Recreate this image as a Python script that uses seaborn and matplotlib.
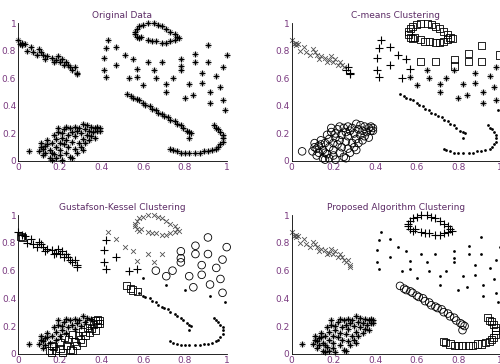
import numpy as np
import pandas as pd
import matplotlib
matplotlib.use("Agg")
import matplotlib.pyplot as plt
import seaborn as sns

sns.set_style("white")
plt.rcParams['font.family'] = ['DejaVu Sans']

# ---- data: same points in all four panels ----
A_x = [0.00,0.01,0.02,0.02,0.03,0.04,0.06,0.07,0.09,0.10,0.11,0.12,0.13,0.14,0.16,0.17,0.18,0.19,0.20,0.21,0.22,0.23,0.24,0.25,0.26,0.27,0.28,0.28]
A_y = [0.88,0.85,0.84,0.86,0.85,0.80,0.83,0.79,0.77,0.81,0.79,0.77,0.74,0.76,0.75,0.72,0.73,0.76,0.72,0.74,0.70,0.72,0.70,0.68,0.66,0.68,0.64,0.63]

B_x = [0.56,0.56,0.57,0.58,0.60,0.62,0.65,0.67,0.69,0.71,0.73,0.75,0.76,0.77,0.57,0.58,0.59,0.62,0.64,0.66,0.69,0.71,0.73,0.75]
B_y = [0.92,0.94,0.96,0.98,0.99,1.00,1.00,0.99,0.98,0.96,0.94,0.92,0.90,0.89,0.90,0.89,0.90,0.88,0.87,0.87,0.86,0.86,0.87,0.88]

C_x = [0.43,0.42,0.41,0.41,0.42,0.47,0.47,0.51,0.53,0.55,0.57,0.57,0.60,0.62,0.65,0.66,0.69,0.71,0.71,0.74,
       0.78,0.78,0.78,0.80,0.82,0.84,0.85,0.85,0.88,0.88,0.91,0.91,0.92,0.92,0.95,0.97,0.98,0.98,0.99,1.00]
C_y = [0.88,0.82,0.75,0.66,0.61,0.83,0.70,0.77,0.60,0.74,0.67,0.61,0.55,0.72,0.66,0.60,0.72,0.56,0.50,0.60,
       0.74,0.69,0.66,0.46,0.56,0.48,0.78,0.72,0.64,0.57,0.84,0.72,0.50,0.42,0.62,0.54,0.68,0.44,0.37,0.77]

D_x = [0.52,0.54,0.55,0.57,0.58,0.60,0.61,0.63,0.64,0.66,0.67,0.69,0.70,0.72,0.73,0.75,0.76,0.78,0.79,0.81,0.82,0.83,0.82]
D_y = [0.49,0.47,0.46,0.45,0.44,0.42,0.41,0.40,0.38,0.37,0.35,0.34,0.33,0.32,0.30,0.29,0.27,0.26,0.24,0.22,0.21,0.20,0.17]

E_x = [0.73,0.74,0.76,0.78,0.80,0.82,0.85,0.87,0.89,0.91,0.93,0.95,0.96,0.97,0.98,0.98,0.98,0.97,0.96,0.95,0.94]
E_y = [0.09,0.08,0.07,0.06,0.06,0.06,0.06,0.06,0.07,0.07,0.08,0.09,0.10,0.12,0.14,0.17,0.19,0.21,0.23,0.24,0.26]

F_x = [0.05,0.10,0.11,0.11,0.12,0.13,0.13,0.14,0.14,0.15,0.15,0.16,0.16,0.17,0.17,0.18,0.18,0.18,0.19,0.20,
       0.20,0.20,0.21,0.21,0.21,0.22,0.22,0.23,0.23,0.23,0.24,0.24,0.25,0.25,0.26,0.26,0.27,0.27,0.27,0.28,
       0.28,0.29,0.29,0.30,0.30,0.31,0.31,0.32,0.32,0.33,0.33,0.34,0.34,0.35,0.35,0.36,0.37,0.37,0.38,0.38,
       0.39,0.39,0.12,0.16,0.19,0.26,0.31]
F_y = [0.07,0.07,0.13,0.10,0.04,0.11,0.06,0.15,0.12,0.08,0.02,0.01,0.13,0.19,0.05,0.16,0.10,0.02,0.24,0.08,
       0.13,0.04,0.20,0.17,0.01,0.12,0.23,0.06,0.15,0.25,0.19,0.10,0.24,0.03,0.14,0.21,0.09,0.25,0.18,0.22,
       0.06,0.13,0.24,0.20,0.10,0.16,0.27,0.23,0.13,0.19,0.26,0.15,0.22,0.18,0.25,0.21,0.24,0.17,0.22,0.25,
       0.24,0.22,0.09,0.06,0.21,0.02,0.08]

# ---- cluster markers per panel (one character per point) ----
titles = ["Original Data", "C-means Clustering", "Gustafson-Kessel Clustering", "Proposed Algorithm Clustering"]
labels_orig = {"A": "*" * 28, "B": "*" * 24, "C": "*" * 40, "D": "*" * 23, "E": "*" * 21, "F": "*" * 67}
labels_cm = {"A": "x" * 24 + "+" * 4, "B": "s" * 24,
             "C": "+++++++++++**s**s***ss****ss**ss******.s",
             "D": "." * 23, "E": "." * 21, "F": "o" * 67}
labels_gk = {"A": "+ss" + "+" * 25, "B": "x" * 24,
             "C": "x++++x+x+xx+.x" + "xoxo.oooo.ooooooooo.oooo.o",
             "D": "ssss" + "." * 19, "E": "." * 21,
             "F": "**********" "ss**s**s*s" "*s**ss*s**" "*s*ss*s***" "ss**ss**ss" "*sss*sssss" "ss*s*ss"}
labels_pr = {"A": "x" * 28, "B": "+" * 24, "C": "." * 40, "D": "o" * 23, "E": "s" * 21, "F": "*" * 67}

clusters = {"A": (A_x, A_y), "B": (B_x, B_y), "C": (C_x, C_y),
            "D": (D_x, D_y), "E": (E_x, E_y), "F": (F_x, F_y)}

def frame(labels):
    rows = []
    for k, (xs, ys) in clusters.items():
        lab = labels[k]
        for xi, yi, m in zip(xs, ys, lab):
            rows.append((xi, yi, m))
    return pd.DataFrame(rows, columns=["x", "y", "m"])

# MATLAB-like markers; '*' is drawn as a dark '+' with lighter diagonals
styles = {
    "*": [dict(marker="x", s=11, color="#8a8a8a", linewidth=0.7),
          dict(marker="+", s=24, color="black", linewidth=0.9)],
    "+": [dict(marker="+", s=34, color="black", linewidth=0.8)],
    "x": [dict(marker="x", s=12, color="#505050", linewidth=0.6)],
    "o": [dict(marker="o", s=30, facecolor="none", edgecolor="black", linewidth=0.6)],
    "s": [dict(marker="s", s=26, facecolor="none", edgecolor="black", linewidth=0.6)],
    ".": [dict(marker="o", s=4, color="black", linewidth=0)],
}

fig = plt.figure(figsize=(5.0, 3.64), dpi=100)
W, H = 500.0, 364.0
boxes = [(18.3, 23.3, 226.7, 161.0), (291.7, 23.3, 500.0, 161.0),
         (18.3, 215.3, 226.7, 353.7), (291.7, 215.3, 500.0, 353.7)]
title_col = "#5c2c66"
tick_col = "#7a3a80"

for box, title, labels in zip(boxes, titles, [labels_orig, labels_cm, labels_gk, labels_pr]):
    x0, y0, x1, y1 = box
    ax = fig.add_axes([x0 / W, 1 - y1 / H, (x1 - x0) / W, (y1 - y0) / H])
    df = frame(labels)
    for m, layers in styles.items():
        sub = df[df["m"] == m]
        if len(sub) == 0:
            continue
        for st in layers:
            sns.scatterplot(data=sub, x="x", y="y", ax=ax, legend=False, clip_on=False, **st)
    ax.set_xlim(0, 1)
    ax.set_ylim(0, 1)
    ticks = [0, 0.2, 0.4, 0.6, 0.8, 1]
    tl = ["0", "0.2", "0.4", "0.6", "0.8", "1"]
    ax.set_xticks(ticks)
    ax.set_xticklabels(tl)
    ax.set_yticks(ticks)
    ax.set_yticklabels(tl)
    ax.set_xlabel("")
    ax.set_ylabel("")
    ax.tick_params(direction="in", length=2, width=0.6, labelsize=6.5, colors="black",
                   labelcolor=tick_col, pad=1.5)
    for side in ["top", "right"]:
        ax.spines[side].set_visible(False)
    for side in ["left", "bottom"]:
        ax.spines[side].set_linewidth(0.6)
        ax.spines[side].set_color("black")
    ax.set_title(title, fontsize=6.5, color=title_col, pad=4)
    ax.patch.set_alpha(0)

fig.savefig("out.png", dpi=100)
